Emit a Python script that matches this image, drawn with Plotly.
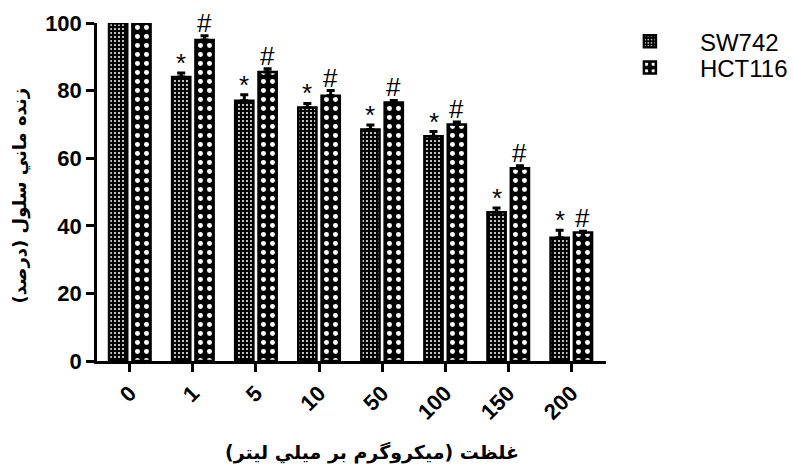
import plotly.graph_objects as go

categories = ["0", "1", "5", "10", "50", "100", "150", "200"]
sw742 = [100, 84, 77, 75, 68.5, 66.5, 44, 36.5]
sw742_err = [0, 1.2, 1.8, 1.2, 1.3, 1.4, 1.3, 2.2]
hct116 = [100, 95, 85.5, 78.5, 76.5, 70, 57, 38]
hct116_err = [0, 1.2, 1.0, 1.5, 0.6, 0.7, 0.8, 0.4]
sw742_marks = ["", "*", "*", "*", "*", "*", "*", "*"]
hct116_marks = ["", "#", "#", "#", "#", "#", "#", "#"]

y_title = "زنده ماني سلول (درصد)"
x_title = "غلظت (ميكروگرم بر ميلي ليتر)"

BARGAP = 0.26
FONT = "Arial, 'Liberation Sans', sans-serif"
FA_FONT = "'DejaVu Sans', Arial, sans-serif"

fig = go.Figure()
fig.add_trace(go.Bar(
    name="SW742", x=list(range(len(categories))), y=sw742, legend="legend",
    marker=dict(color="black", line=dict(color="black", width=2.5),
                pattern=dict(shape=".", fgcolor="white", bgcolor="black",
                             size=4, solidity=0.2, fillmode="replace")),
    error_y=dict(type="data", array=sw742_err, arrayminus=[0] * len(sw742_err),
                 symmetric=False, color="black", thickness=3, width=4),
    cliponaxis=False,
))
fig.add_trace(go.Bar(
    name="HCT116", x=list(range(len(categories))), y=hct116, legend="legend2",
    marker=dict(color="black", line=dict(color="black", width=2.5),
                pattern=dict(shape=".", fgcolor="white", bgcolor="black",
                             size=9, solidity=0.24, fillmode="replace")),
    error_y=dict(type="data", array=hct116_err, arrayminus=[0] * len(hct116_err),
                 symmetric=False, color="black", thickness=3, width=4),
    cliponaxis=False,
))

off = (1 - BARGAP) / 4
annotations = []
for i in range(len(categories)):
    if sw742_marks[i]:
        annotations.append(dict(x=i - off, y=sw742[i] + sw742_err[i], xref="x", yref="y",
                                text=sw742_marks[i], showarrow=False, yanchor="bottom",
                                yshift=-7, font=dict(family=FONT, size=26, color="black")))
    if hct116_marks[i]:
        annotations.append(dict(x=i + off, y=hct116[i] + hct116_err[i], xref="x", yref="y",
                                text=hct116_marks[i], showarrow=False, yanchor="bottom",
                                yshift=-4, font=dict(family=FONT, size=26, color="black")))

annotations.append(dict(x=-0.151, y=0.49, xref="paper", yref="paper", text="<b>" + y_title + "</b>",
                        textangle=-90, showarrow=False, xanchor="center", yanchor="middle",
                        font=dict(family=FA_FONT, size=18, color="black")))
annotations.append(dict(x=0.54, y=-0.272, xref="paper", yref="paper", text="<b>" + x_title + "</b>",
                        showarrow=False, xanchor="center", yanchor="middle",
                        font=dict(family=FA_FONT, size=19, color="black")))

legend_style = dict(xanchor="left", yanchor="middle",
                    font=dict(family=FONT, size=24, color="black"),
                    itemwidth=90, bgcolor="rgba(0,0,0,0)")

fig.update_layout(
    width=794, height=470,
    margin=dict(l=97, r=188, t=23, b=109, autoexpand=False),
    paper_bgcolor="white", plot_bgcolor="white",
    barmode="group", bargap=BARGAP, bargroupgap=0.22,
    font=dict(family=FONT, color="black"),
    showlegend=True,
    legend=dict(x=0.988, y=0.945, **legend_style),
    legend2=dict(x=0.988, y=0.867, **legend_style),
    annotations=annotations,
)
fig.update_xaxes(
    tickmode="array", tickvals=list(range(len(categories))), ticktext=categories,
    range=[-0.52, 7.55], showline=True, linecolor="black", linewidth=2.5,
    ticks="outside", ticklen=8, tickwidth=2.5, tickcolor="black",
    tickangle=-45, showgrid=False, zeroline=False, automargin=False,
    tickfont=dict(family=FONT, size=22, color="black", weight="bold"),
)
fig.update_yaxes(
    range=[0, 100], tickvals=[0, 20, 40, 60, 80, 100],
    showline=True, linecolor="black", linewidth=2.5,
    ticks="outside", ticklen=8, tickwidth=2.5, tickcolor="black",
    showgrid=False, zeroline=False, automargin=False,
    tickfont=dict(family=FONT, size=22, color="black", weight="bold"),
)

fig.write_html("out.html")
